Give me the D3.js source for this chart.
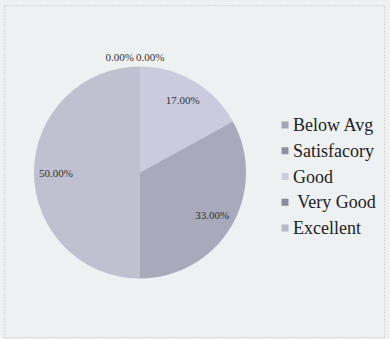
<!DOCTYPE html>
<html><head><meta charset="utf-8">
<script src="https://cdn.jsdelivr.net/npm/d3@7"></script>
<style>html,body{margin:0;padding:0;background:#eef1f1;}svg{display:block;}
text{font-family:"Liberation Serif","DejaVu Serif",serif;}</style>
</head><body>
<svg id="chart" width="390" height="339"></svg>
<script>
const categories = ["Below Avg", "Satisfacory", "Good", " Very Good", "Excellent"];
const values = [0, 0, 17, 33, 50];
const labels = ["0.00%", "0.00%", "17.00%", "33.00%", "50.00%"];
const sliceColors = ["#a9aaba", "#9596a8", "#cacbdc", "#a8a9ba", "#bfc0d0"];
const markerColors = ["#a4a5b6", "#8e8fa0", "#cdcedd", "#8a8b9c", "#b6b7c7"];

const svg = d3.select("#chart");
const cx = 140, cy = 172.5, R = 106;

svg.append("rect").attr("x", 4.5).attr("y", 5.5).attr("width", 380).attr("height", 332)
  .attr("fill", "#eef1f1").attr("stroke", "#b8bcc8").attr("stroke-width", 1)
  .attr("stroke-dasharray", "1,2");

const pie = d3.pie().sort(null).value(d => d)(values);
const arc = d3.arc().innerRadius(0).outerRadius(R);
const g = svg.append("g").attr("transform", `translate(${cx},${cy})`);
g.selectAll("path").data(pie).join("path")
  .attr("d", arc).attr("fill", (d, i) => sliceColors[i]);

const labelArc = d3.arc().innerRadius(84).outerRadius(84);
const zeroArc = d3.arc().innerRadius(R + 10).outerRadius(R + 10);
g.selectAll("text").data(pie).join("text")
  .attr("font-size", 11).attr("fill", "#333")
  .attr("dominant-baseline", "central")
  .each(function (d, i) {
    const t = d3.select(this);
    if (d.value === 0) {
      const [x, y] = zeroArc.centroid(d);
      t.attr("x", i === 0 ? x - 6 : x - 4).attr("y", y)
       .attr("text-anchor", i === 0 ? "end" : "start");
    } else {
      const [x, y] = labelArc.centroid(d);
      t.attr("x", x).attr("y", y).attr("text-anchor", "middle");
    }
  })
  .text((d, i) => labels[i]);

const legendY = d3.scalePoint().domain(categories).range([125, 228]);
const lg = svg.append("g");
const rows = lg.selectAll("g").data(categories).join("g")
  .attr("transform", d => `translate(285,${legendY(d)})`);
rows.append("rect").attr("x", -3.5).attr("y", -3.5).attr("width", 7).attr("height", 7)
  .attr("fill", (d, i) => markerColors[i]);
rows.append("text").attr("x", 8).attr("y", 0)
  .attr("dominant-baseline", "central")
  .attr("font-size", 18).attr("fill", "#222")
  .style("white-space", "pre")
  .text(d => d);
</script>
</body></html>
